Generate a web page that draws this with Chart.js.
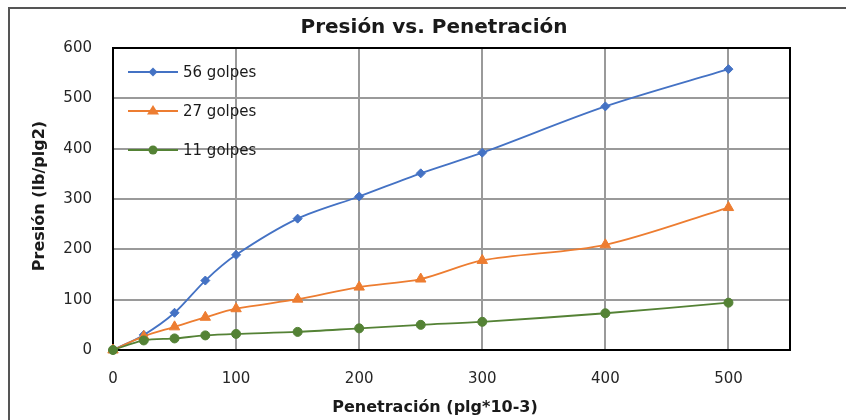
<!DOCTYPE html>
<html>
<head>
<meta charset="utf-8">
<title>Presión vs. Penetración</title>
<script src="https://cdn.jsdelivr.net/npm/chart.js@4/dist/chart.umd.min.js"></script>
<style>
  html, body { margin: 0; padding: 0; background: #fff; }
  #c { display: block; }
</style>
</head>
<body>
<canvas id="c" width="846" height="420"></canvas>
<script>
// Penetración (plg*10-3) en cada lectura
const penetracion = [0, 25, 50, 75, 100, 150, 200, 250, 300, 400, 500];
// Presión (lb/plg2) para cada energía de compactación
const golpes56 = [0, 30, 74, 138, 189, 261, 305, 351, 392, 484, 558];
const golpes27 = [0, 27, 46, 65, 82, 101, 125, 141, 178, 209, 283];
const golpes11 = [0, 19, 23, 29, 32, 36, 43, 50, 56, 73, 94];
const seriesNames = ['56 golpes', '27 golpes', '11 golpes'];
const xTicks = [0, 100, 200, 300, 400, 500];
const yTicks = [0, 100, 200, 300, 400, 500, 600];

const titulo = 'Presión vs. Penetración';
const tituloX = 'Penetración (plg*10-3)';
const tituloY = 'Presión (lb/plg2)';

const FONT = "'DejaVu Sans', sans-serif";
const colors = ['#4472C4', '#ED7D31', '#548235'];
const markers = ['rectRot', 'triangle', 'circle'];
const radii = [4.5, 6, 4.5];

function toPoints(ys) {
  return penetracion.map((x, i) => ({ x: x, y: ys[i] }));
}

const seriesValues = [golpes56, golpes27, golpes11];
const datasets = seriesValues.map((vals, i) => ({
  label: seriesNames[i],
  data: toPoints(vals),
  showLine: true,
  borderColor: colors[i],
  backgroundColor: colors[i],
  borderWidth: 1.8,
  tension: 0.3,
  pointStyle: markers[i],
  pointRadius: radii[i],
  pointHoverRadius: radii[i],
  pointBackgroundColor: colors[i],
  pointBorderColor: colors[i],
  pointBorderWidth: 1,
  clip: false,
  order: 3 - i
}));

function drawMarker(ctx, style, x, y, r, color) {
  ctx.save();
  ctx.fillStyle = color;
  ctx.beginPath();
  if (style === 'rectRot') {
    ctx.moveTo(x, y - r); ctx.lineTo(x + r, y); ctx.lineTo(x, y + r); ctx.lineTo(x - r, y);
  } else if (style === 'triangle') {
    ctx.moveTo(x, y - r); ctx.lineTo(x + r, y + r * 0.6); ctx.lineTo(x - r, y + r * 0.6);
  } else {
    ctx.arc(x, y, r, 0, Math.PI * 2);
  }
  ctx.closePath();
  ctx.fill();
  ctx.restore();
}

const decoraciones = {
  id: 'decoraciones',
  beforeDraw(chart) {
    const ctx = chart.ctx;
    ctx.save();
    ctx.fillStyle = '#ffffff';
    ctx.fillRect(0, 0, chart.width, chart.height);
    // marco exterior del gráfico
    ctx.strokeStyle = '#555555';
    ctx.lineWidth = 2;
    ctx.strokeRect(9, 8, chart.width + 20, chart.height + 20);
    ctx.restore();
  },
  beforeDatasetsDraw(chart) {
    const { ctx, chartArea: a } = chart;
    ctx.save();
    ctx.strokeStyle = '#000000';
    ctx.lineWidth = 2;
    ctx.strokeRect(a.left, a.top, a.right - a.left, a.bottom - a.top);
    ctx.restore();
  },
  afterDraw(chart) {
    const { ctx } = chart;
    ctx.save();
    ctx.fillStyle = '#1a1a1a';
    ctx.textAlign = 'center';
    ctx.textBaseline = 'middle';
    // título principal
    ctx.font = 'bold 20px ' + FONT;
    ctx.fillText(titulo, 434, 28);
    // título eje X
    ctx.font = 'bold 16px ' + FONT;
    ctx.fillText(tituloX, 435, 408);
    // título eje Y
    ctx.save();
    ctx.translate(40, 196);
    ctx.rotate(-Math.PI / 2);
    ctx.fillText(tituloY, 0, 0);
    ctx.restore();

    // leyenda dentro del área de trazado
    const legendY = [72, 111, 150];
    ctx.font = '15px ' + FONT;
    ctx.textAlign = 'left';
    chart.data.datasets.forEach((ds, i) => {
      const y = legendY[i];
      ctx.strokeStyle = ds.borderColor;
      ctx.lineWidth = 2;
      ctx.beginPath();
      ctx.moveTo(128, y);
      ctx.lineTo(178, y);
      ctx.stroke();
      drawMarker(ctx, ds.pointStyle, 153, y, ds.pointRadius, ds.borderColor);
      ctx.fillStyle = '#1a1a1a';
      ctx.fillText(ds.label, 183, y + 1);
    });
    ctx.restore();
  }
};

new Chart(document.getElementById('c'), {
  type: 'scatter',
  data: { datasets: datasets },
  plugins: [decoraciones],
  options: {
    responsive: false,
    animation: false,
    devicePixelRatio: 1,
    layout: { padding: { left: 0, right: 56, top: 48, bottom: 0 } },
    plugins: {
      legend: { display: false },
      title: { display: false },
      tooltip: { enabled: false }
    },
    scales: {
      x: {
        type: 'linear',
        min: 0,
        max: 550,
        afterBuildTicks: (axis) => { axis.ticks = xTicks.map(v => ({ value: v })); },
        afterFit: (axis) => { axis.height = 70; },
        ticks: {
          padding: 20,
          color: '#262626',
          font: { family: FONT, size: 15 },
          maxRotation: 0
        },
        grid: { color: '#9a9a9a', lineWidth: 2, drawTicks: false },
        border: { display: true, color: '#000000', width: 2 }
      },
      y: {
        type: 'linear',
        min: 0,
        max: 600,
        afterBuildTicks: (axis) => { axis.ticks = yTicks.map(v => ({ value: v })); },
        afterFit: (axis) => { axis.width = 113; },
        ticks: {
          padding: 21,
          color: '#262626',
          font: { family: FONT, size: 15 }
        },
        grid: { color: '#9a9a9a', lineWidth: 2, drawTicks: false },
        border: { display: true, color: '#000000', width: 2 }
      }
    }
  }
});
</script>
</body>
</html>
